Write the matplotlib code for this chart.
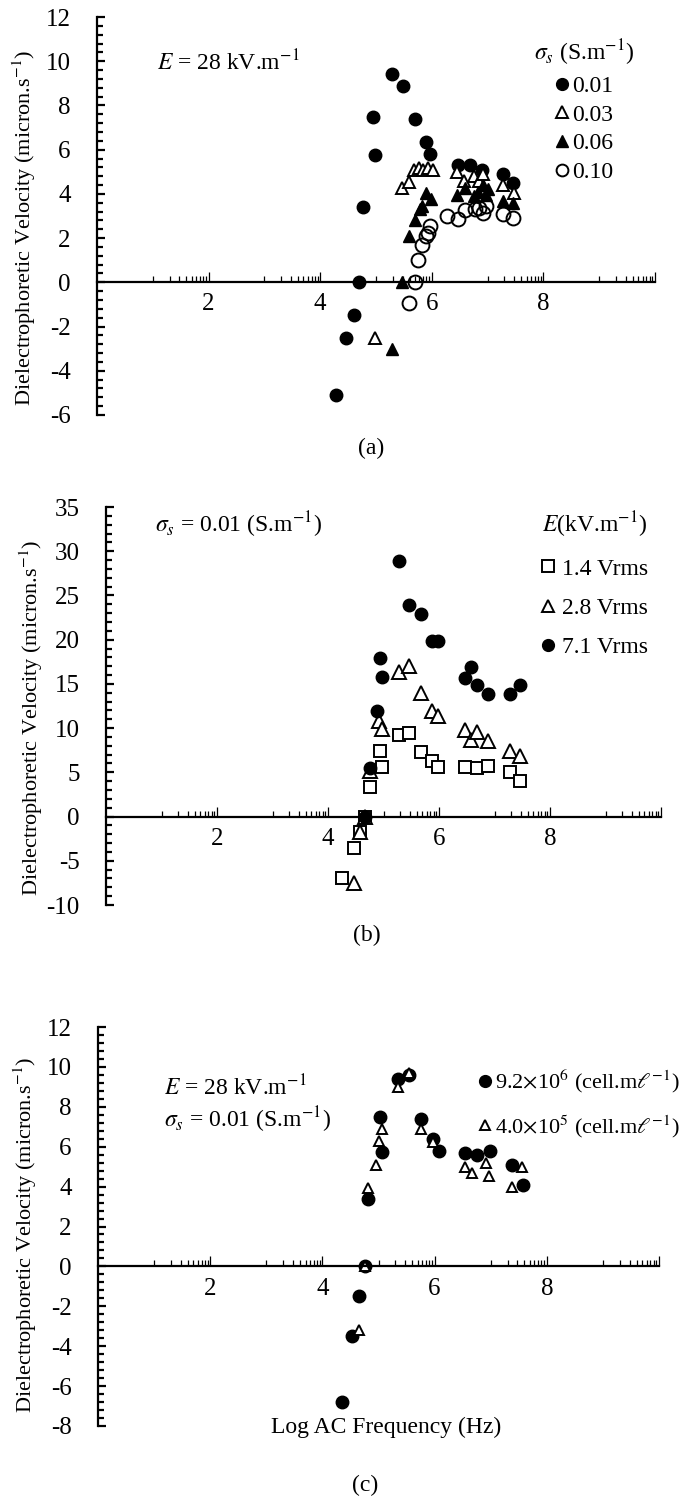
import numpy as np
import matplotlib
matplotlib.use('Agg')
import matplotlib.pyplot as plt
from matplotlib.lines import Line2D

plt.rcParams['font.family'] = ['Liberation Serif', 'DejaVu Serif']
plt.rcParams['mathtext.fontset'] = 'stix'
plt.rcParams['axes.unicode_minus'] = False

W, H = 695, 1505

#======================================================================#
#   Panel (a): velocity vs log frequency for several conductivities
#======================================================================#
a_x_001 = [4.29, 4.47, 4.60, 4.69, 4.77, 4.94, 4.99, 5.29, 5.48, 5.69, 5.90, 5.97, 6.47, 6.69, 6.90, 7.28, 7.46]
a_y_001 = [-5.1, -2.5, -1.5, 0.0, 3.4, 7.5, 5.75, 9.4, 8.9, 7.4, 6.35, 5.8, 5.3, 5.3, 5.1, 4.9, 4.5]

a_x_003 = [4.98, 5.47, 5.59, 5.68, 5.77, 5.85, 5.93, 6.02, 6.45, 6.58, 6.75, 6.85, 6.92, 7.28, 7.48]
a_y_003 = [-2.5, 4.25, 4.55, 5.1, 5.15, 5.1, 5.15, 5.1, 5.0, 4.6, 4.8, 4.6, 4.9, 4.4, 4.05]

a_x_006 = [5.28, 5.46, 5.59, 5.69, 5.78, 5.82, 5.90, 5.99, 6.45, 6.59, 6.75, 6.83, 6.91, 6.97, 7.00, 7.28, 7.46]
a_y_006 = [-3.0, 0.0, 2.1, 2.8, 3.3, 3.45, 4.05, 3.75, 3.95, 4.25, 3.9, 4.1, 4.4, 3.95, 4.2, 3.7, 3.6]

a_x_010 = [5.60, 5.70, 5.75, 5.83, 5.90, 5.94, 5.97, 6.28, 6.47, 6.59, 6.77, 6.85, 6.91, 6.97, 7.28, 7.46]
a_y_010 = [-0.95, 0.0, 1.0, 1.7, 2.1, 2.25, 2.55, 3.0, 2.85, 3.25, 3.3, 3.35, 3.15, 3.45, 3.1, 2.9]

#======================================================================#
#   Panel (b): velocity vs log frequency for several field strengths
#======================================================================#
b_x = [4.26, 4.46, 4.58, 4.66, 4.76, 4.94, 4.98, 5.28, 5.46, 5.68, 5.88, 5.98, 6.46, 6.68, 6.88, 7.28, 7.46]
b_y_14 = [-6.9, -3.6, -1.7, 0.0, 3.3, 7.4, 5.6, 9.2, 9.4, 7.3, 6.3, 5.6, 5.6, 5.5, 5.7, 5.0, 4.0]

b_x_28 = [4.46, 4.58, 4.66, 4.76, 4.92, 4.98, 5.28, 5.46, 5.68, 5.88, 5.98, 6.46, 6.58, 6.68, 6.88, 7.28, 7.46]
b_y_28 = [-7.5, -1.7, 0.0, 5.1, 10.8, 9.9, 16.3, 17.0, 14.0, 11.9, 11.4, 9.8, 8.7, 9.6, 8.5, 7.4, 6.9]

b_x_71 = [4.66, 4.76, 4.88, 4.94, 4.98, 5.28, 5.46, 5.68, 5.88, 5.98, 6.46, 6.58, 6.68, 6.88, 7.28, 7.46]
b_y_71 = [0.0, 5.5, 11.9, 17.9, 15.8, 28.9, 23.9, 22.9, 19.9, 19.9, 15.7, 16.9, 14.9, 13.9, 13.9, 14.9]

#======================================================================#
#   Panel (c): velocity vs log frequency for two cell concentrations
#======================================================================#
c_x_92 = [4.35, 4.52, 4.66, 4.76, 4.82, 5.02, 5.06, 5.35, 5.54, 5.76, 5.98, 6.08, 6.54, 6.76, 6.98, 7.38, 7.57]
c_y_92 = [-6.8, -3.5, -1.5, 0.0, 3.4, 7.5, 5.75, 9.4, 9.6, 7.4, 6.4, 5.8, 5.7, 5.6, 5.8, 5.1, 4.1]

c_x_40 = [4.65, 4.76, 4.82, 4.96, 5.00, 5.06, 5.35, 5.54, 5.75, 5.98, 6.54, 6.67, 6.91, 6.97, 7.38, 7.56]
c_y_40 = [-3.2, 0.0, 3.95, 5.1, 6.3, 6.9, 9.0, 9.7, 6.9, 6.25, 5.0, 4.7, 5.2, 4.55, 4.0, 5.0]

ylab = r'Dielectrophoretic Velocity (micron.s$^{-1}$)'

# Excel style log ticks: one "decade" drawn over each odd..even interval
x_minor = [(2 * n - 1) + np.log10(k) for n in range(1, 6) for k in range(1, 10)]
x_major = [2, 4, 6, 8, 10]


def axbox(l, r, t, b):
    return [l / W, 1 - b / H, (r - l) / W, (b - t) / H]


def style_axis(ax, ymin, ymax, ymaj, ymin_step):
    ax.set_xlim(0, 10)
    ax.set_ylim(ymin, ymax)
    for s in ['top', 'right']:
        ax.spines[s].set_visible(False)
    ax.spines['bottom'].set_position(('data', 0))
    ax.spines['bottom'].set_linewidth(1.6)
    ax.spines['left'].set_linewidth(1.6)
    ax.set_xticks(x_major)
    ax.set_xticklabels(['2', '4', '6', '8', ''])
    ax.set_xticks(x_minor, minor=True)
    ax.set_yticks(np.arange(ymin, ymax + 0.01, ymaj))
    ax.set_yticks(np.arange(ymin, ymax + 0.01, ymin_step), minor=True)
    ax.set_yticklabels(['%d' % v for v in np.arange(ymin, ymax + 0.01, ymaj)])
    ax.tick_params(axis='x', which='major', direction='in', length=7, width=0.9, labelsize=18, pad=8)
    ax.tick_params(axis='x', which='minor', direction='in', length=4, width=0.9)
    ax.tick_params(axis='y', which='major', direction='in', length=6, width=1.6, labelsize=18, pad=19)
    ax.tick_params(axis='y', which='minor', direction='in', length=4.5, width=1.6)
    ax.set_ylabel(ylab, fontsize=16, labelpad=2)
    ax.set_facecolor('none')


fig = plt.figure(figsize=(W / 100, H / 100), dpi=100)

ms = 9
mew = 1.4

#---------------------------- panel (a) ----------------------------
ax1 = fig.add_axes(axbox(97, 655, 17, 415))
style_axis(ax1, -6, 12, 2, 0.4)
ax1.plot(a_x_001, a_y_001, 'o', color='k', ms=ms, ls='None')
ax1.plot(a_x_003, a_y_003, '^', mfc='white', mec='k', mew=mew, ms=ms, ls='None')
ax1.plot(a_x_006, a_y_006, '^', color='k', ms=ms, ls='None')
ax1.plot(a_x_010, a_y_010, 'o', mfc='none', mec='k', mew=mew, ms=ms + 1, ls='None')
ax1.yaxis.set_label_coords(-0.105, 0.47)
fig.text(157 / W, 1 - 63 / H, r'$E$ = 28 kV.m$^{-1}$', fontsize=17, va='center', ha='left')
lh = [Line2D([], [], marker='o', color='k', ls='None', ms=8.5),
      Line2D([], [], marker='^', mfc='white', mec='k', mew=mew, ls='None', ms=8.5),
      Line2D([], [], marker='^', color='k', ls='None', ms=8.5),
      Line2D([], [], marker='o', mfc='none', mec='k', mew=mew, ls='None', ms=8.5)]
ax1.legend(lh, ['0.01', '0.03', '0.06', '0.10'], title=r'$\sigma_s$ (S.m$^{-1}$)',
           loc='upper left', bbox_to_anchor=(534 / W, 1 - 38 / H), bbox_transform=fig.transFigure,
           frameon=False, fontsize=17, title_fontsize=17, handlelength=0.6, handletextpad=0.15,
           labelspacing=0.3, borderpad=0, borderaxespad=0, alignment='center')
fig.text(371 / W, 1 - 448 / H, '(a)', fontsize=17, ha='center', va='center')

#---------------------------- panel (b) ----------------------------
ax2 = fig.add_axes(axbox(106, 661, 507, 905))
style_axis(ax2, -10, 35, 5, 1)
ax2.plot(b_x, b_y_14, 's', mfc='white', mec='k', mew=mew, ms=ms - 0.5, ls='None')
ax2.plot(b_x_28, b_y_28, '^', mfc='white', mec='k', mew=mew, ms=ms + 1, ls='None')
ax2.plot(b_x_71, b_y_71, 'o', color='k', ms=ms, ls='None')
ax2.yaxis.set_label_coords(-0.11, 0.47)
fig.text(155 / W, 1 - 525 / H, r'$\sigma_s$ = 0.01 (S.m$^{-1}$)', fontsize=17, va='center', ha='left')
lh2 = [Line2D([], [], marker='s', mfc='white', mec='k', mew=mew, ls='None', ms=8),
       Line2D([], [], marker='^', mfc='white', mec='k', mew=mew, ls='None', ms=9),
       Line2D([], [], marker='o', color='k', ls='None', ms=8.5)]
ax2.legend(lh2, ['1.4 Vrms', '2.8 Vrms', '7.1 Vrms'], title=r'$E$(kV.m$^{-1}$)',
           loc='upper left', bbox_to_anchor=(541 / W, 1 - 510 / H), bbox_transform=fig.transFigure,
           frameon=False, fontsize=17, title_fontsize=17, handlelength=0.6, handletextpad=0.3,
           labelspacing=0.75, borderpad=0, borderaxespad=0, alignment='center')
fig.text(367 / W, 1 - 935 / H, '(b)', fontsize=17, ha='center', va='center')

#---------------------------- panel (c) ----------------------------
ax3 = fig.add_axes(axbox(98, 659, 1027, 1426))
style_axis(ax3, -8, 12, 2, 0.4)
ax3.plot(c_x_92, c_y_92, 'o', color='k', ms=ms, ls='None')
ax3.plot(c_x_40, c_y_40, '^', mfc='white', mec='k', mew=mew, ms=ms - 2, ls='None')
ax3.yaxis.set_label_coords(-0.105, 0.48)
fig.text(164 / W, 1 - 1088 / H, r'$E$ = 28 kV.m$^{-1}$', fontsize=17, va='center', ha='left')
fig.text(164 / W, 1 - 1120 / H, r'$\sigma_s$ = 0.01 (S.m$^{-1}$)', fontsize=17, va='center', ha='left')
lh3 = [Line2D([], [], marker='o', color='k', ls='None', ms=8.5),
       Line2D([], [], marker='^', mfc='white', mec='k', mew=mew, ls='None', ms=7)]
ax3.legend(lh3, [r'9.2$\times$10$^6$ (cell.m$\ell^{-1}$)', r'4.0$\times$10$^5$ (cell.m$\ell^{-1}$)'],
           loc='upper left', bbox_to_anchor=(478 / W, 1 - 1068 / H), bbox_transform=fig.transFigure,
           frameon=False, fontsize=16, handlelength=0.6, handletextpad=0.15,
           labelspacing=0.8, borderpad=0, borderaxespad=0)
fig.text(386 / W, 1 - 1427 / H, 'Log AC Frequency (Hz)', fontsize=17, ha='center', va='center')
fig.text(365 / W, 1 - 1485 / H, '(c)', fontsize=17, ha='center', va='center')

fig.savefig('out.png', dpi=100)
